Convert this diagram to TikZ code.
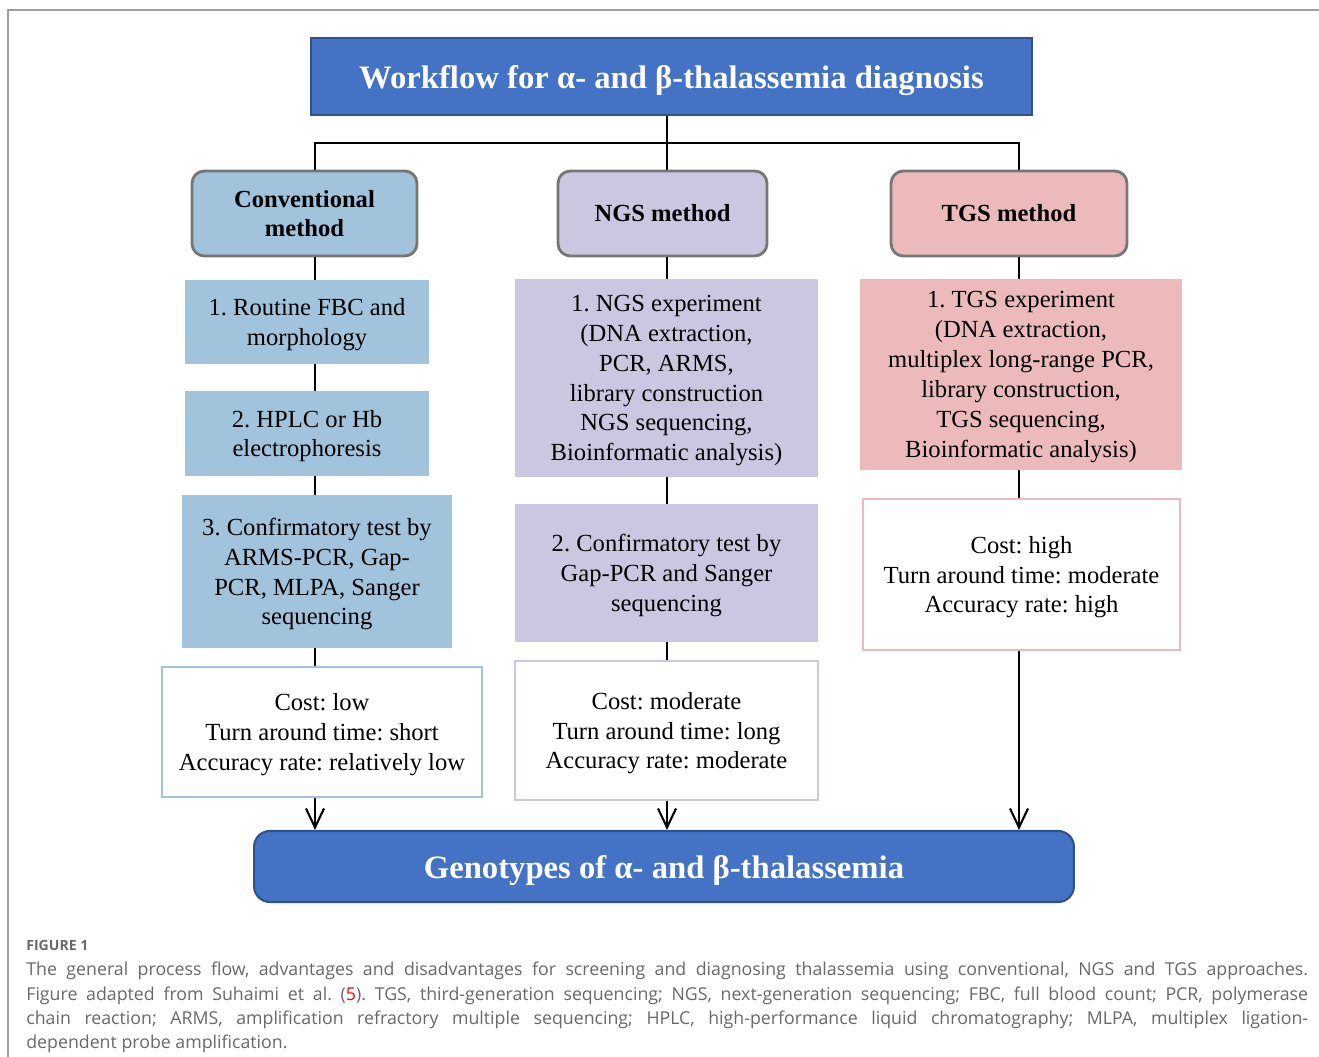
\documentclass[tikz,border=0pt]{standalone}
\usepackage{fontspec}
\setmainfont{Liberation Serif}
\newfontfamily\capfont{Open Sans}
\usepackage{tikz}
\usetikzlibrary{arrows.meta,calc,positioning}
\frenchspacing

\definecolor{hdblue}{HTML}{4472C4}
\definecolor{hdedge}{HTML}{2F528F}
\definecolor{convfill}{HTML}{A1C3DC}
\definecolor{ngsfill}{HTML}{CBC7E0}
\definecolor{tgsfill}{HTML}{EDBABB}
\definecolor{boxgray}{HTML}{767676}
\definecolor{capgray}{HTML}{686868}

\begin{document}
\begin{tikzpicture}[x=0.02cm, y=-0.02cm,
		every node/.style={align=center, inner sep=0pt, font=\fontsize{14}{17}\selectfont},
		drop/.style={execute at begin node={\rule{0pt}{#1}}},
		headbox/.style={draw=hdedge, fill=hdblue, line width=1.2pt, text=white, drop=18pt,
			font=\fontsize{18.6}{22}\selectfont\bfseries},
		methodbox/.style={draw=boxgray, line width=1.6pt, rounded corners=7pt,
			minimum height=1.7cm, font=\fontsize{14}{16.5}\selectfont\bfseries},
		stepbox/.style={fill=#1, minimum width=4.88cm, text depth=-1.6pt},
		notebox/.style={draw=#1, line width=1.3pt, fill=white, text depth=-1.6pt},
		link/.style={line width=1.4pt},
		arrow/.style={link, -{Straight Barb[length=0.38cm, width=0.36cm, line width=1.2pt]}}
	]
	\useasboundingbox (0,0) rectangle (1319,1057);
	% frame of the figure
	\draw[gray!75, line width=0.8pt] (8,1057) -- (8,10) -- (1319,10);

	\node[headbox, minimum width=14.42cm, minimum height=1.54cm] (title) at (671.5,76.5)
		{Workflow for α- and β-thalassemia diagnosis};

	% the three methods
	\node[methodbox, fill=convfill, minimum width=4.5cm] (conv) at (304.5,213.5) {Conventional\\method};
	\node[methodbox, fill=ngsfill, minimum width=4.18cm] (ngs) at (662.5,213.5) {NGS method};
	\node[methodbox, fill=tgsfill, minimum width=4.72cm] (tgs) at (1009,213.5) {TGS method};

	% conventional
	\node[stepbox=convfill, minimum height=1.68cm] (c1) at (307,322) {1. Routine FBC and\\morphology};
	\node[stepbox=convfill, minimum height=1.7cm] (c2) at (307,433.5) {2. HPLC or Hb\\electrophoresis};
	\node[stepbox=convfill, minimum width=5.4cm, minimum height=3.06cm] (c3) at (317,571.5)
		{3. Confirmatory test by\\ARMS-PCR, Gap-\\PCR, MLPA, Sanger\\sequencing};
	\node[notebox=convfill, minimum width=6.4cm, minimum height=2.6cm] (c4) at (322,732)
		{Cost: low\\Turn around time: short\\Accuracy rate: relatively low};

	% NGS
	\node[stepbox=ngsfill, minimum width=6.06cm, minimum height=3.96cm] (n1) at (666.5,378)
		{1. NGS experiment\\(DNA extraction,\\PCR, ARMS,\\library construction\\NGS sequencing,\\Bioinformatic analysis)};
	\node[stepbox=ngsfill, minimum width=6.06cm, minimum height=2.76cm] (n2) at (666.5,573)
		{2. Confirmatory test by\\Gap-PCR and Sanger\\sequencing};
	\node[notebox=ngsfill, minimum width=6.06cm, minimum height=2.78cm] (n3) at (666.5,730.5)
		{Cost: moderate\\Turn around time: long\\Accuracy rate: moderate};

	% TGS
	\node[stepbox=tgsfill, minimum width=6.44cm, minimum height=3.82cm] (t1) at (1021,374.5)
		{1. TGS experiment\\(DNA extraction,\\multiplex long-range PCR,\\library construction,\\TGS sequencing,\\Bioinformatic analysis)};
	\node[notebox=tgsfill, minimum width=6.34cm, minimum height=3.02cm] (t2) at (1021.5,574.5)
		{Cost: high\\Turn around time: moderate\\Accuracy rate: high};

	\node[headbox, rounded corners=9pt, minimum width=16.4cm, minimum height=1.42cm] (geno) at (664,866.5)
		{Genotypes of α- and β-thalassemia};

	% connectors
	\coordinate (busL) at (315,143);
	\coordinate (busM) at (667,143);
	\coordinate (busR) at (1019,143);
	\draw[link] (title.south -| busM) -- (busM);
	\draw[link] (conv.north -| busL) -- (busL) -- (busR) -- (tgs.north -| busR);
	\draw[link] (busM) -- (ngs.north -| busM);
	\foreach \a/\b in {conv/c1, c1/c2, c2/c3, c3/c4}
		\draw[link] (\a.south -| busL) -- (\b.north -| busL);
	\foreach \a/\b in {ngs/n1, n1/n2, n2/n3}
		\draw[link] (\a.south -| busM) -- (\b.north -| busM);
	\foreach \a/\b in {tgs/t1, t1/t2}
		\draw[link] (\a.south -| busR) -- (\b.north -| busR);
	\draw[arrow] (c4.south -| busL) -- (geno.north -| busL);
	\draw[arrow] (n3.south -| busM) -- (geno.north -| busM);
	\draw[arrow] (t2.south -| busR) -- (geno.north -| busR);

	% caption
	\node[anchor=west, font=\capfont\fontsize{8}{10}\selectfont\bfseries, text=capgray] (figlabel) at (26,945) {FIGURE 1};
	\node[anchor=north west, text width=25.64cm, align=justify, text=capgray,
		font=\capfont\fontsize{10.1}{13.7}\selectfont] (caption) at (26,962)
		{\hyphenpenalty=10000 The general process flow, advantages and disadvantages for screening and diagnosing thalassemia using conventional, NGS and TGS approaches.\linebreak
		Figure adapted from Suhaimi et al. ({\color{red}5}). TGS, third-generation sequencing; NGS, next-generation sequencing; FBC, full blood count; PCR, polymerase\linebreak
		chain reaction; ARMS, amplification refractory multiple sequencing; HPLC, high-performance liquid chromatography; MLPA, multiplex ligation-\linebreak
		dependent probe amplification.};
\end{tikzpicture}
\end{document}
